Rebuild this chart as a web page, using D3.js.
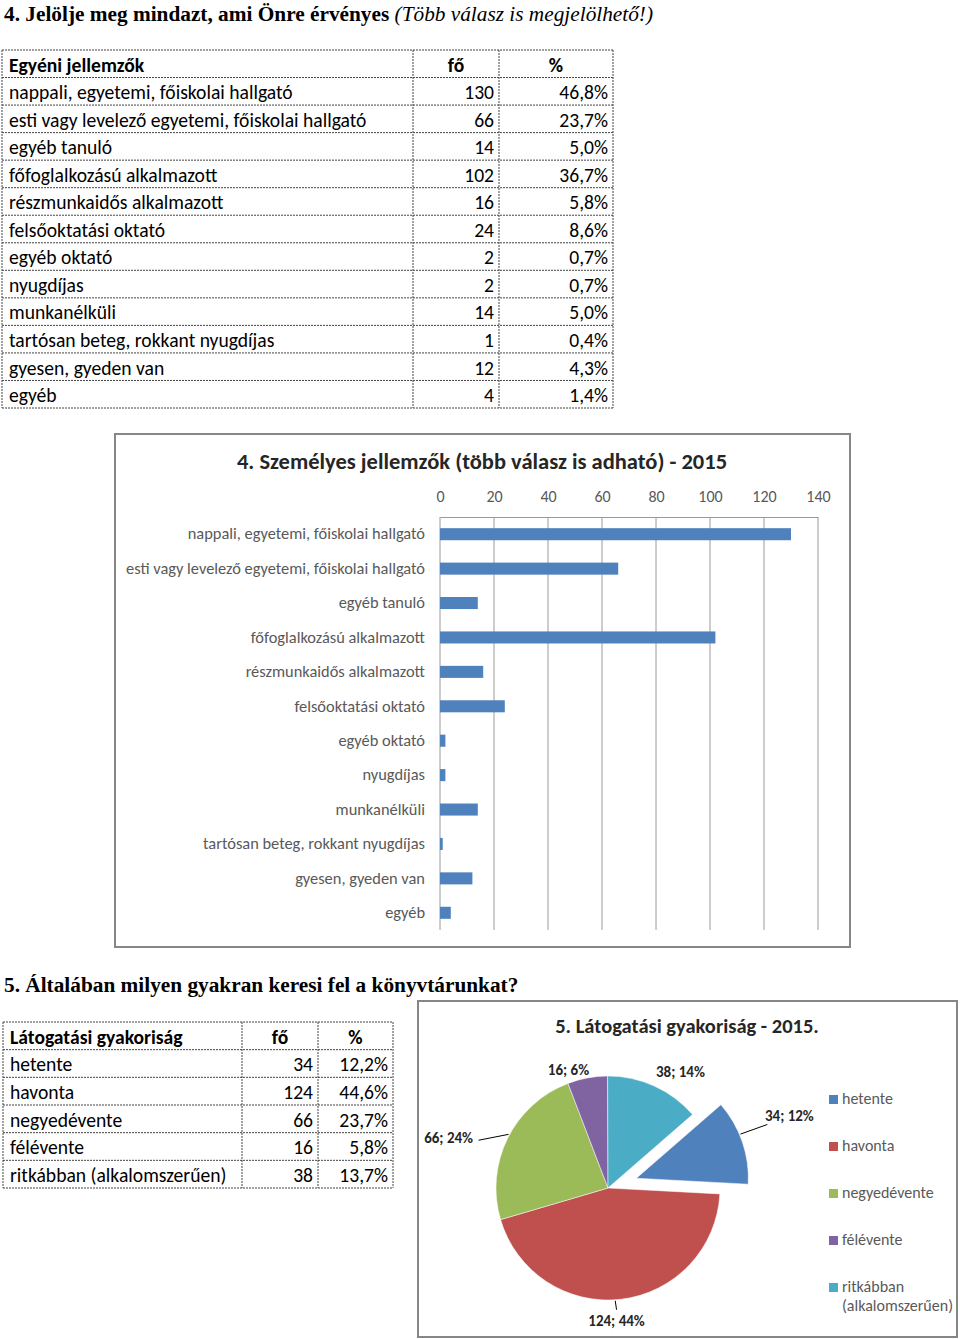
<!DOCTYPE html>
<html><head><meta charset="utf-8">
<script src="https://cdn.jsdelivr.net/npm/d3@7"></script>
<style>
body{margin:0;background:#fff;}
svg{display:block;}
</style></head>
<body>
<script>
// ---------- DATA ----------
const heading1Bold = "4. Jelölje meg mindazt, ami Önre érvényes";
const heading1Italic = "(Több válasz is megjelölhető!)";
const heading2 = "5. Általában milyen gyakran keresi fel a könyvtárunkat?";

const table1Header = ["Egyéni jellemzők", "fő", "%"];
const categories = [
  "nappali, egyetemi, főiskolai hallgató",
  "esti vagy levelező egyetemi, főiskolai hallgató",
  "egyéb tanuló",
  "főfoglalkozású alkalmazott",
  "részmunkaidős alkalmazott",
  "felsőoktatási oktató",
  "egyéb oktató",
  "nyugdíjas",
  "munkanélküli",
  "tartósan beteg, rokkant nyugdíjas",
  "gyesen, gyeden van",
  "egyéb"
];
const counts = [130, 66, 14, 102, 16, 24, 2, 2, 14, 1, 12, 4];
const percents = ["46,8%","23,7%","5,0%","36,7%","5,8%","8,6%","0,7%","0,7%","5,0%","0,4%","4,3%","1,4%"];

const barTitle = "4. Személyes jellemzők (több válasz is adható) - 2015";
const barTicks = [0, 20, 40, 60, 80, 100, 120, 140];

const table2Header = ["Látogatási gyakoriság", "fő", "%"];
const freqCategories = ["hetente", "havonta", "negyedévente", "félévente", "ritkábban (alkalomszerűen)"];
const freqCounts = [34, 124, 66, 16, 38];
const freqPercents = ["12,2%", "44,6%", "23,7%", "5,8%", "13,7%"];

const pieTitle = "5. Látogatási gyakoriság - 2015.";
const pieLabelPct = ["12%", "44%", "24%", "6%", "14%"];
const legendLines = [["hetente"], ["havonta"], ["negyedévente"], ["félévente"], ["ritkábban", "(alkalomszerűen)"]];
const pieColors = ["#4F81BD", "#C0504D", "#9BBB59", "#8064A2", "#4BACC6"];

// ---------- LAYOUT / STYLE ----------
const W = 960, H = 1339;
const serif = "'Liberation Serif','Times New Roman',serif";
const sans = "Carlito, Calibri, Lato, sans-serif";
const gray = "#595959";

const svg = d3.select("body").append("svg").attr("width", W).attr("height", H);

// headings
const h1 = svg.append("text").attr("x", 4).attr("y", 21)
  .attr("font-family", serif).attr("font-size", 21.3).attr("fill", "#000");
h1.append("tspan").attr("font-weight", "bold").text(heading1Bold + " ");
h1.append("tspan").attr("font-style", "italic").text(heading1Italic);

svg.append("text").attr("x", 4).attr("y", 992)
  .attr("font-family", serif).attr("font-size", 21.3).attr("font-weight", "bold")
  .attr("fill", "#000").text(heading2);

// ---------- TABLE helper ----------
function drawTable(g, cols, top, bottom, header, rows, fontSize) {
  const nRows = rows.length + 1;
  const ry = d3.scaleLinear().domain([0, nRows]).range([top, bottom]);
  const dash = "2,1";
  const stroke = "#444";
  d3.range(nRows + 1).forEach(i => {
    g.append("line").attr("x1", cols[0]).attr("x2", cols[3])
      .attr("y1", ry(i)).attr("y2", ry(i))
      .attr("stroke", stroke).attr("stroke-width", 1).attr("stroke-dasharray", dash);
  });
  cols.forEach(cx => {
    g.append("line").attr("x1", cx).attr("x2", cx).attr("y1", top).attr("y2", bottom)
      .attr("stroke", stroke).attr("stroke-width", 1).attr("stroke-dasharray", dash);
  });
  const mid = i => (ry(i) + ry(i + 1)) / 2 + fontSize * 0.4;
  g.append("text").attr("x", cols[0] + 7).attr("y", mid(0)).text(header[0])
    .attr("font-weight", "bold");
  g.append("text").attr("x", (cols[1] + cols[2]) / 2).attr("y", mid(0)).text(header[1])
    .attr("font-weight", "bold").attr("text-anchor", "middle");
  g.append("text").attr("x", (cols[2] + cols[3]) / 2).attr("y", mid(0)).text(header[2])
    .attr("font-weight", "bold").attr("text-anchor", "middle");
  rows.forEach((r, i) => {
    g.append("text").attr("x", cols[0] + 7).attr("y", mid(i + 1)).text(r[0]);
    g.append("text").attr("x", cols[2] - 5).attr("y", mid(i + 1)).text(r[1]).attr("text-anchor", "end");
    g.append("text").attr("x", cols[3] - 5).attr("y", mid(i + 1)).text(r[2]).attr("text-anchor", "end");
  });
  g.selectAll("text").attr("font-family", sans).attr("font-size", fontSize).attr("fill", "#000");
}

drawTable(svg.append("g"), [2, 413, 499, 613], 50, 408, table1Header,
  categories.map((c, i) => [c, counts[i], percents[i]]), 19.6);

drawTable(svg.append("g"), [3, 242, 318, 393], 1022, 1188, table2Header,
  freqCategories.map((c, i) => [c, freqCounts[i], freqPercents[i]]), 19.6);

// ---------- BAR CHART ----------
const bar = svg.append("g");
bar.append("rect").attr("x", 115).attr("y", 434).attr("width", 735).attr("height", 513)
  .attr("fill", "#fff").attr("stroke", "#868686").attr("stroke-width", 2);
bar.append("text").attr("x", 482).attr("y", 469).attr("text-anchor", "middle")
  .attr("font-family", sans).attr("font-size", 22.5).attr("font-weight", "bold")
  .attr("fill", "#262626").text(barTitle);

const x = d3.scaleLinear().domain([0, 140]).range([440, 818]);
const y = d3.scaleBand().domain(categories).range([517, 930]).paddingInner(0.65).paddingOuter(0.325);

bar.append("g").selectAll("line").data(barTicks).join("line")
  .attr("x1", d => x(d)).attr("x2", d => x(d)).attr("y1", 517).attr("y2", 930)
  .attr("stroke", "#9a9a9a").attr("stroke-width", 1);

const xAxis = bar.append("g").attr("transform", "translate(0,517)")
  .call(d3.axisTop(x).tickValues(barTicks).tickSize(0).tickPadding(15));
xAxis.select(".domain").attr("stroke", "#9a9a9a");
xAxis.selectAll("text").attr("font-family", sans).attr("font-size", 16).attr("fill", gray);

bar.append("g").selectAll("rect").data(categories).join("rect")
  .attr("x", x(0)).attr("y", d => y(d))
  .attr("width", (d, i) => x(counts[i]) - x(0)).attr("height", y.bandwidth())
  .attr("fill", "#4F81BD");

const yAxis = bar.append("g").attr("transform", `translate(${x(0)},0)`)
  .call(d3.axisLeft(y).tickSize(0).tickPadding(15));
yAxis.select(".domain").remove();
yAxis.selectAll("text").attr("font-family", sans).attr("font-size", 16.4).attr("fill", gray);

// ---------- PIE CHART ----------
const pieG = svg.append("g");
pieG.append("rect").attr("x", 418).attr("y", 1001).attr("width", 539).attr("height", 336)
  .attr("fill", "#fff").attr("stroke", "#868686").attr("stroke-width", 2);
pieG.append("text").attr("x", 687).attr("y", 1033).attr("text-anchor", "middle")
  .attr("font-family", sans).attr("font-size", 20.5).attr("font-weight", "bold")
  .attr("fill", "#262626").text(pieTitle);

const cx = 608, cy = 1188, R = 112;
const pieStart = 49 * Math.PI / 180;
const explode = [30, 0, 0, 0, 0];
const labelR = [165, 133, 167, 124, 137];
const labelDA = [-3, 3, -9, -8, 7.5];
// leader: [angle offset from mid (deg) at the slice edge, end point dx, dy relative to label centre]
const leaders = [
  { edgeDA: -4, dx: -22, dy: 8 },
  { edgeDA: 3, dx: 0, dy: -11 },
  { edgeDA: 2, dx: 30, dy: 2 },
  null, null
];

const pie = d3.pie().sort(null).value(d => d).startAngle(pieStart).endAngle(pieStart + 2 * Math.PI);
const arcs = pie(freqCounts);
const arc = d3.arc().innerRadius(0).outerRadius(R);

arcs.forEach((a, i) => {
  const mid = (a.startAngle + a.endAngle) / 2;
  const ox = cx + Math.sin(mid) * explode[i];
  const oy = cy - Math.cos(mid) * explode[i];
  pieG.append("path").attr("d", arc(a)).attr("transform", `translate(${ox},${oy})`)
    .attr("fill", pieColors[i]).attr("stroke", "#fff").attr("stroke-width", 0.5);
  const la = mid + labelDA[i] * Math.PI / 180;
  const lx = ox + Math.sin(la) * labelR[i];
  const lyy = oy - Math.cos(la) * labelR[i];
  const L = leaders[i];
  if (L) {
    const ea = mid + L.edgeDA * Math.PI / 180;
    pieG.append("line")
      .attr("x1", ox + Math.sin(ea) * (R + 1)).attr("y1", oy - Math.cos(ea) * (R + 1))
      .attr("x2", lx + L.dx).attr("y2", lyy + L.dy)
      .attr("stroke", "#000").attr("stroke-width", 1);
  }
  pieG.append("text")
    .attr("x", lx).attr("y", lyy + 5)
    .attr("text-anchor", "middle")
    .attr("font-family", sans).attr("font-size", 15).attr("font-weight", "bold").attr("fill", "#262626")
    .text(`${freqCounts[i]}; ${pieLabelPct[i]}`);
});

// legend
const ly = d3.scalePoint().domain(d3.range(legendLines.length)).range([1099, 1287]);
legendLines.forEach((lines, i) => {
  pieG.append("rect").attr("x", 829).attr("y", ly(i) - 4).attr("width", 9).attr("height", 9)
    .attr("fill", pieColors[i]);
  const t = pieG.append("text").attr("x", 842).attr("y", ly(i) + 5)
    .attr("font-family", sans).attr("font-size", 16).attr("fill", gray);
  lines.forEach((ln, k) => t.append("tspan").attr("x", 842).attr("dy", k ? 19 : 0).text(ln));
});
</script>
</body></html>
